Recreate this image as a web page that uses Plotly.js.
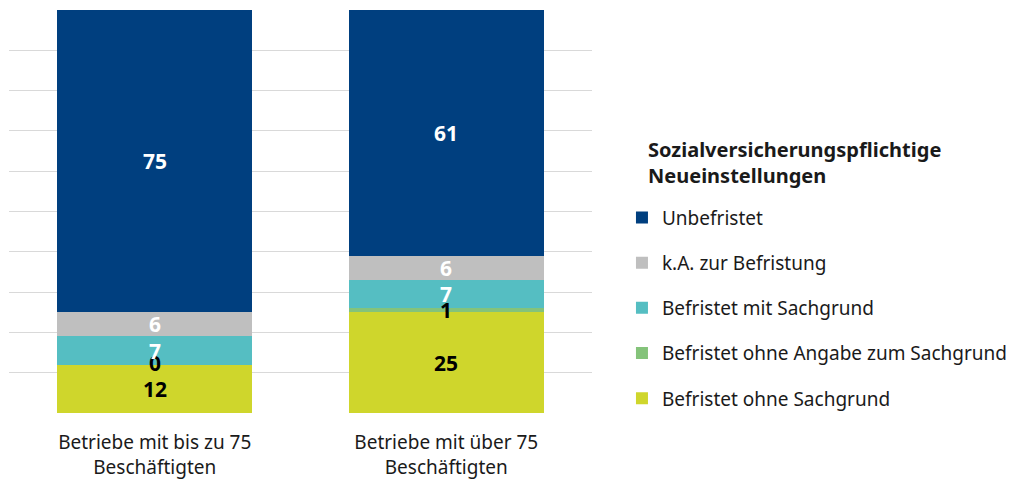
<!DOCTYPE html>
<html><head><meta charset="utf-8">
<script src="https://cdn.plot.ly/plotly-3.0.1.min.js"></script>
<style>html,body{margin:0;padding:0;background:#fff}#chart{width:1016px;height:485px}</style>
</head><body><div id="chart"></div>
<script>
const categories = ["Betriebe mit bis zu 75<br>Beschäftigten", "Betriebe mit über 75<br>Beschäftigten"];
const seriesNames = ["Befristet ohne Sachgrund", "Befristet ohne Angabe zum Sachgrund", "Befristet mit Sachgrund", "k.A. zur Befristung", "Unbefristet"];
const ohneSachgrund = [12, 25];
const ohneAngabe = [0, 1];
const mitSachgrund = [7, 7];
const keineAngabe = [6, 6];
const unbefristet = [75, 61];
const legendTitle = "<b>Sozialversicherungspflichtige<br>Neueinstellungen</b>";

const seriesValues = [ohneSachgrund, ohneAngabe, mitSachgrund, keineAngabe, unbefristet];
const colors = ["#cfd62c", "#84c37a", "#55bec2", "#bfbfbf", "#003f7f"];
const labelColors = ["#000000", "#000000", "#ffffff", "#ffffff", "#ffffff"];
const FONT = "Source Sans Pro, Noto Sans, sans-serif";

const traces = seriesValues.map((vals, i) => ({
  type: "bar", x: categories, y: vals, name: seriesNames[i],
  marker: {color: colors[i], line: {width: 0}},
  legendgroup: "g" + i, legendrank: seriesValues.length - i, hoverinfo: "none"
}));

const annotations = [];
categories.forEach((cat, c) => {
  let base = 0;
  seriesValues.forEach((vals, i) => {
    const v = vals[c];
    annotations.push({
      x: cat, y: base + v / 2, xref: "x", yref: "y", text: "<b>" + v + "</b>",
      showarrow: false, font: {family: FONT, size: 21, color: labelColors[i]},
      yshift: (i === 1 && v === 0 ? 2 : 0)
    });
    base += v;
  });
});
annotations.push({
  xref: "paper", yref: "paper", x: 1.0926, y: 0.692, xanchor: "left", yanchor: "top", align: "left",
  text: legendTitle, showarrow: false, font: {family: FONT, size: 20, color: "#1a1a1a"}
});

const layout = {
  width: 1016, height: 485,
  margin: {l: 9, r: 424, t: 10, b: 72, autoexpand: false},
  barmode: "stack", bargap: 0.331,
  paper_bgcolor: "#fff", plot_bgcolor: "#fff",
  font: {family: FONT, size: 19, color: "#1a1a1a"},
  xaxis: {showgrid: false, zeroline: false, showline: false, ticks: "", ticklabelstandoff: 16, tickfont: {family: FONT, size: 19, color: "#1a1a1a"}},
  yaxis: {range: [0, 100], dtick: 10, showgrid: true, gridcolor: "#d9d9d9", gridwidth: 1, showticklabels: false, zeroline: false, showline: false, ticks: ""},
  showlegend: true,
  legend: {
    x: 1.0514, xanchor: "left", y: 0.532, yanchor: "top",
    traceorder: "grouped", tracegroupgap: 17.5,
    font: {family: FONT, size: 19, color: "#1a1a1a"},
    itemclick: false
  },
  annotations: annotations
};
Plotly.newPlot("chart", traces, layout, {displayModeBar: false, staticPlot: true});
</script></body></html>
